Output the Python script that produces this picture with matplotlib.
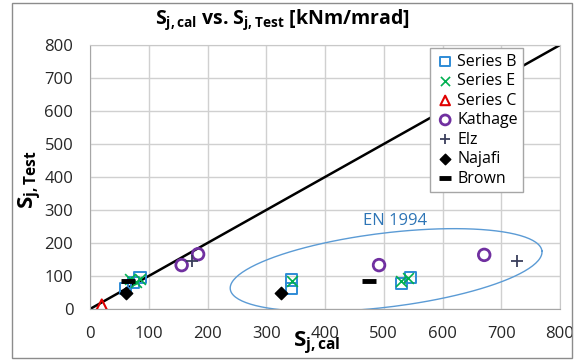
import numpy as np
import matplotlib
matplotlib.use("Agg")
import matplotlib.pyplot as plt

plt.rcParams['font.family'] = ['Open Sans', 'DejaVu Sans']
plt.rcParams['mathtext.fontset'] = 'custom'
plt.rcParams['mathtext.rm'] = 'Open Sans'
plt.rcParams['mathtext.bf'] = 'Open Sans:bold'
plt.rcParams['mathtext.it'] = 'Open Sans:italic'

# data (S_j,cal, S_j,Test)
series_b_x = [60, 74, 85, 343, 343, 530, 545]
series_b_y = [63, 80, 96, 63, 88, 78, 95]
series_e_x = [68, 79, 85, 343, 530, 541]
series_e_y = [90, 83, 92, 85, 85, 93]
series_c_x = [20]
series_c_y = [12]
kathage_x = [156, 184, 492, 671]
kathage_y = [133, 166, 133, 164]
elz_x = [173, 726]
elz_y = [146, 145]
najafi_x = [61, 325]
najafi_y = [47, 47]
brown_x = [65, 475]
brown_y = [86, 86]

ticks = [0, 100, 200, 300, 400, 500, 600, 700, 800]

fig = plt.figure(figsize=(5.77, 3.61), dpi=100)
ax = fig.add_axes([90/577, 1-309/361, 470/577, 264/361])

# chart border
fig.patches.append(plt.Rectangle((12/577, 3/361), 560/577, 355/361, transform=fig.transFigure,
                                 fill=False, edgecolor='#8c8c8c', linewidth=1))

ax.set_xlim(0, 800)
ax.set_ylim(0, 800)
ax.set_xticks(ticks)
ax.set_yticks(ticks)
ax.grid(True, color='#d0d0d0', linewidth=1)
ax.set_axisbelow(True)
for s in ax.spines.values():
    s.set_color('#c8c8c8')
ax.spines['left'].set_color('#a6a6a6')
ax.spines['bottom'].set_color('#a6a6a6')
ax.tick_params(length=0, labelsize=12, pad=12, colors='#262626')

ax.plot([0, 800], [0, 800], color='black', linewidth=1.8, zorder=2)

# EN 1994 ellipse, defined in pixel-like units then mapped to data
cx, cy = 504, 118
a_px, b_px, ang = 157, 37, np.deg2rad(7)
t = np.linspace(0, 2*np.pi, 200)
ex = cx + (a_px*np.cos(t)*np.cos(ang) - b_px*np.sin(t)*np.sin(ang)) / 0.5875
ey = cy + (a_px*np.cos(t)*np.sin(ang) + b_px*np.sin(t)*np.cos(ang)) / 0.33
ax.plot(ex, ey, color='#5b9bd5', linewidth=1, zorder=2)
ax.text(519, 267, 'EN 1994', color='#2e75b6', fontsize=12, ha='center', va='center')

ax.scatter(series_b_x, series_b_y, marker='s', s=65, facecolors='none',
           edgecolors='#2e8bd6', linewidths=1.4, label='Series B', zorder=3)
ax.scatter(series_e_x, series_e_y, marker='x', s=60, color='#00b050',
           linewidths=1.2, label='Series E', zorder=3)
ax.scatter(series_c_x, series_c_y, marker='^', s=65, facecolors='none',
           edgecolors='#e00000', linewidths=1.5, label='Series C', zorder=3)
ax.scatter(kathage_x, kathage_y, marker='o', s=70, facecolors='none',
           edgecolors='#7030a0', linewidths=2, label='Kathage', zorder=3)
ax.scatter(elz_x, elz_y, marker='+', s=70, color='#3a3f5c',
           linewidths=1.3, label='Elz', zorder=3)
ax.scatter(najafi_x, najafi_y, marker='D', s=40, color='black',
           label='Najafi', zorder=3)
ax.scatter(brown_x, brown_y, marker='_', s=90, color='black',
           linewidths=3.5, label='Brown', zorder=3)

leg = ax.legend(loc='upper left', bbox_to_anchor=(340/470, 1.0 - 3/264), fontsize=11.5,
                frameon=True, fancybox=False, framealpha=1, edgecolor='#a6a6a6',
                handletextpad=0.15, handlelength=1.2, labelspacing=0.22,
                borderpad=0.35, borderaxespad=0, markerscale=0.85)
leg.get_frame().set_linewidth(1)

fig.text(0.49, 0.945, r'$\mathbf{S_{j,cal}}$ vs. $\mathbf{S_{j,Test}}$ [kNm/mrad]',
         fontsize=14, fontweight='bold', ha='center', va='center')
fig.text(293/577, 1-343/361, r'$\mathbf{S_{j,cal}}$', fontsize=16, ha='left', va='center')
fig.text(30/577, 1-180/361, r'$\mathbf{S_{j,Test}}$', fontsize=16, ha='center', va='center',
         rotation=90)

fig.savefig('out.png', dpi=100)
